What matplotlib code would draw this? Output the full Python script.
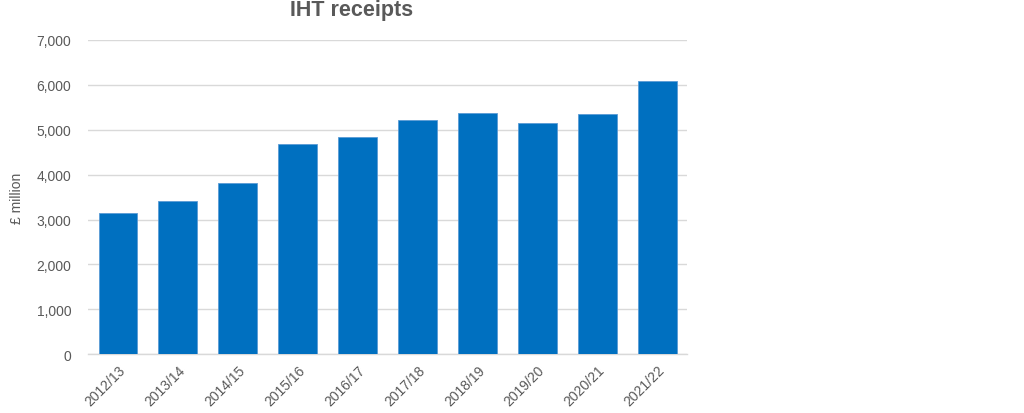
import matplotlib.pyplot as plt
import numpy as np

years = ["2012/13", "2013/14", "2014/15", "2015/16", "2016/17",
         "2017/18", "2018/19", "2019/20", "2020/21", "2021/22"]
receipts = [3136, 3403, 3825, 4676, 4833, 5213, 5365, 5151, 5349, 6083]

plt.rcParams.update({
    "font.family": ["Liberation Sans", "DejaVu Sans"],
})

grey = "#595959"

fig = plt.figure(figsize=(10.24, 4.14), dpi=100)
ax = fig.add_axes([0.086, 0.142, 0.585, 0.759])

x = np.arange(len(years))
ax.bar(x, receipts, width=0.65, color="#0070c0", edgecolor="#5b9bd5",
       linewidth=0.6, zorder=3)

ax.set_xlim(-0.5, len(years) - 0.5)
ax.set_ylim(0, 7000)
ax.set_yticks(np.arange(0, 7001, 1000))
ax.set_yticklabels([f"{v:,}" for v in range(0, 7001, 1000)])
ax.set_xticks(x)
ax.set_xticklabels(years, rotation=45, ha="right", rotation_mode="anchor")

ax.grid(axis="y", color="#d9d9d9", linewidth=1, zorder=0)
for s in ["top", "right", "left"]:
    ax.spines[s].set_visible(False)
ax.spines["bottom"].set_color("#d9d9d9")
ax.spines["bottom"].set_linewidth(1)
ax.tick_params(length=0, colors=grey, labelsize=10)
ax.tick_params(axis="y", pad=12)
ax.tick_params(axis="x", pad=6)

ax.set_ylabel("£ million", color=grey, fontsize=10, labelpad=9)
fig.text(0.343, 0.975, "IHT receipts", color=grey, fontsize=15.5,
         fontweight="bold", ha="center", va="center")

fig.savefig("out.png", dpi=100)
